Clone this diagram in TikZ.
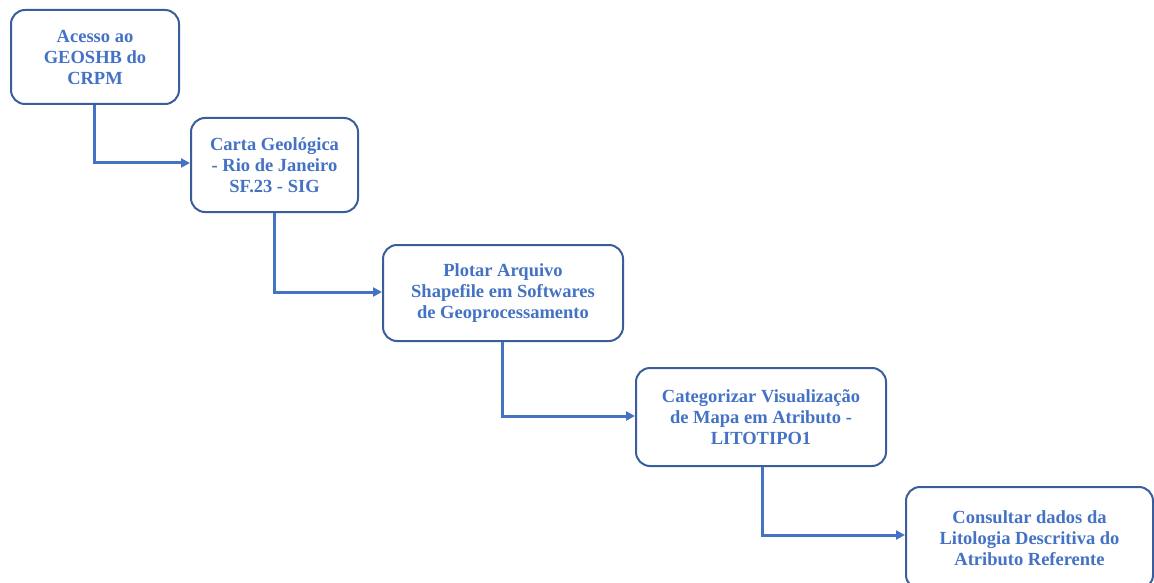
\documentclass[tikz,border=0pt]{standalone}
\usepackage{fontspec}
\setmainfont{Liberation Serif}
\usetikzlibrary{arrows.meta}
\definecolor{boxline}{HTML}{3A5E9C}
\definecolor{txtblue}{HTML}{4472C4}
\definecolor{linkblue}{HTML}{4472C4}
\tikzset{
  stepbox/.style={draw=boxline, line width=2pt, fill=white, rounded corners=14pt,
    anchor=north west, inner sep=0pt, align=center,
    font=\fontsize{18.5}{21}\selectfont\bfseries, text=txtblue},
  link/.style={draw=linkblue, line width=3pt, -{Triangle[length=9pt,width=9pt]}}
}
\begin{document}
\begin{tikzpicture}[x=1pt,y=-1pt]
\useasboundingbox (0,0) rectangle (1154,583);
\clip (0,0) rectangle (1154,583);
\node[stepbox, minimum width=168pt, minimum height=94pt] (a) at (10,9)
  {Acesso ao\\GEOSHB do\\CRPM};
\node[stepbox, minimum width=167pt, minimum height=94pt] (b) at (190,117)
  {Carta Geológica\\- Rio de Janeiro\\SF.23 - SIG};
\node[stepbox, minimum width=240pt, minimum height=96pt] (c) at (382,244)
  {Plotar Arquivo\\Shapefile em Softwares\\de Geoprocessamento};
\node[stepbox, minimum width=250pt, minimum height=98pt] (d) at (635,367)
  {Categorizar Visualização\\de Mapa em Atributo -\\LITOTIPO1};
\node[stepbox, minimum width=247pt, minimum height=102pt] (e) at (905,486)
  {Consultar dados da\\Litologia Descritiva do\\Atributo Referente};
\coordinate (ab) at (94,163);
\coordinate (bc) at (274,292);
\coordinate (cd) at (502,416);
\coordinate (de) at (762,535);
\draw[link] (a.south -| ab) |- (b.west |- ab);
\draw[link] (b.south -| bc) |- (c.west |- bc);
\draw[link] (c.south -| cd) |- (d.west |- cd);
\draw[link] (d.south -| de) |- (e.west |- de);
\end{tikzpicture}
\end{document}
